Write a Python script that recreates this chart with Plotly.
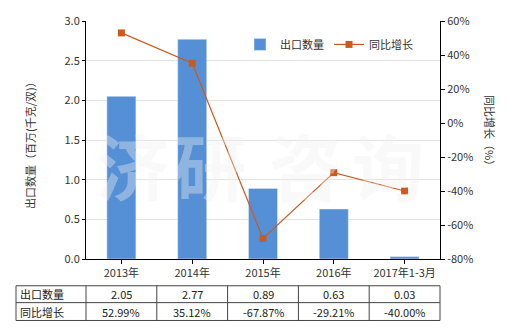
import plotly.graph_objects as go

categories = ["2013年", "2014年", "2015年", "2016年", "2017年1-3月"]
export_qty = [2.05, 2.77, 0.89, 0.63, 0.03]
yoy_growth = [52.99, 35.12, -67.87, -29.21, -40.00]
qty_labels = ["2.05", "2.77", "0.89", "0.63", "0.03"]
yoy_labels = ["52.99%", "35.12%", "-67.87%", "-29.21%", "-40.00%"]
y2_tickvals = [-80, -60, -40, -20, 0, 20, 40, 60]
y2_ticktext = ["-80%", "-60%", "-40%", "-20%", "0%", "20%", "40%", "60%"]
watermark_chars = ["济", "研", "咨", "询"]

W, H = 520, 330
L, R, T, B = 86, 440, 19, 259
PW, PH = R - L, B - T

def px(x):
    return (x - L) / PW

def py(y):
    return (B - y) / PH

FONT = "Noto Sans CJK SC, Microsoft YaHei, sans-serif"
BAR_C = "#5590d6"
LINE_C = "#cc5a1e"

fig = go.Figure()
fig.add_trace(go.Bar(x=categories, y=export_qty, name="出口数量",
                     marker_color=BAR_C, yaxis="y"))
fig.add_trace(go.Scatter(x=categories, y=yoy_growth, name="同比增长",
                         mode="lines+markers", yaxis="y2",
                         line=dict(color=LINE_C, width=1.2),
                         marker=dict(symbol="square", size=7, color=LINE_C)))

fig.update_layout(
    width=W, height=H,
    margin=dict(l=L, r=W - R, t=T, b=H - B, pad=0),
    paper_bgcolor="white", plot_bgcolor="white",
    font=dict(family=FONT, size=11, color="#333333"),
    bargap=0.59,
    showlegend=True,
    legend=dict(orientation="h", x=px(240), y=py(28), xanchor="left", yanchor="top",
                font=dict(size=11, color="#333333"), bgcolor="rgba(0,0,0,0)",
                itemwidth=30, tracegroupgap=0),
    xaxis=dict(showline=True, linecolor="black", linewidth=1, ticks="outside",
               ticklen=4, tickcolor="black", showgrid=False,
               tickfont=dict(size=11, color="#333333")),
    yaxis=dict(range=[0, 3], dtick=0.5, tickformat=".1f", showline=True,
               linecolor="black", linewidth=1, ticks="outside", ticklen=3,
               tickcolor="black", showgrid=True, gridcolor="#e3e3e3",
               zeroline=False, tickfont=dict(size=11, color="#333333")),
    yaxis2=dict(range=[-80, 60], tickvals=y2_tickvals, ticktext=y2_ticktext,
                overlaying="y", side="right", showline=True, linecolor="black",
                linewidth=1, ticks="outside", ticklen=4, tickcolor="black",
                showgrid=False, zeroline=False,
                tickfont=dict(size=11, color="#333333")),
)

ann = []
# axis titles
ann.append(dict(x=px(30), y=py(141), xref="paper", yref="paper",
                text="出口数量（百万(千克/双)）", xanchor="center", yanchor="middle",
                textangle=-90, showarrow=False, font=dict(size=11, color="#333333")))
ann.append(dict(x=px(490), y=py(132), xref="paper", yref="paper", text="同比增长（%）",
                xanchor="center", yanchor="middle",
                textangle=90, showarrow=False, font=dict(size=11, color="#333333")))

# watermark
wm_x = [133, 210, 305, 388]
for ch, xc in zip(watermark_chars, wm_x):
    ann.append(dict(x=px(xc), y=py(163), xref="paper", yref="paper", text=ch,
                    xanchor="center", yanchor="middle", showarrow=False,
                    font=dict(size=72, color="rgba(238,238,238,0.38)",
                              family=FONT, weight="bold")))

# table
row_y = [286, 303, 321]
col_x = [16, L] + [L + PW * (i + 1) / len(categories) for i in range(len(categories))]
shapes = []
for yv in row_y:
    shapes.append(dict(type="line", xref="paper", yref="paper",
                       x0=px(16), x1=px(R), y0=py(yv), y1=py(yv),
                       line=dict(color="#444444", width=1)))
for xv in col_x:
    shapes.append(dict(type="line", xref="paper", yref="paper",
                       x0=px(xv), x1=px(xv), y0=py(row_y[0]), y1=py(row_y[-1]),
                       line=dict(color="#444444", width=1)))
fig.update_layout(shapes=shapes)

for r, (label, vals) in enumerate([("出口数量", qty_labels), ("同比增长", yoy_labels)]):
    yc = (row_y[r] + row_y[r + 1]) / 2
    ann.append(dict(x=px(18), y=py(yc), xref="paper", yref="paper", text=label,
                    xanchor="left", yanchor="middle", showarrow=False,
                    font=dict(size=11, color="#222222")))
    for i, v in enumerate(vals):
        xc = L + PW * (i + 0.5) / len(categories)
        ann.append(dict(x=px(xc), y=py(yc), xref="paper", yref="paper", text=v,
                        xanchor="center", yanchor="middle", showarrow=False,
                        font=dict(size=11, color="#222222")))

fig.update_layout(annotations=ann)
fig.write_html("out.html")
